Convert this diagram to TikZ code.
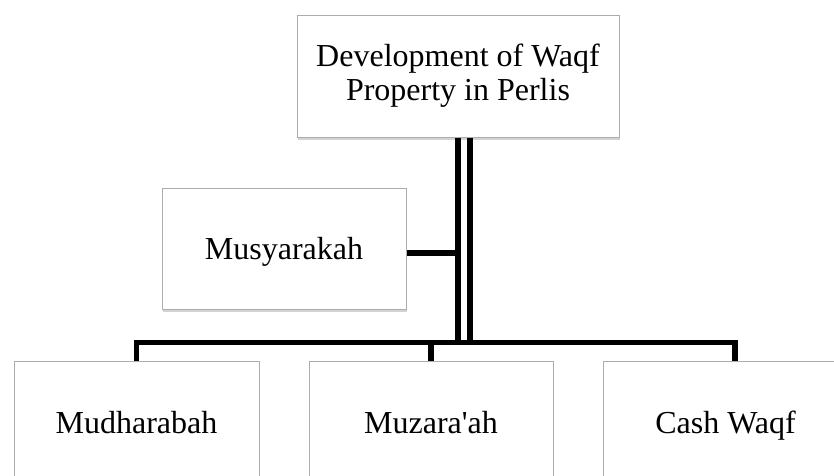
\documentclass[tikz,border=0pt]{standalone}
\usepackage{fontspec}
\setmainfont{Liberation Serif}
\usepackage{tikz}
\usetikzlibrary{shadows,calc,positioning}
\usepackage{xcolor}

\begin{document}
\begin{tikzpicture}[x=1pt, y=-1pt]
    % Define style for the nodes
    \tikzstyle{box node} = [rectangle, draw=gray!65, line width=1pt, fill=white, inner sep=0pt, text depth=0pt,
        drop shadow={shadow xshift=1pt, shadow yshift=-3pt, opacity=0.35, fill=gray},
        font=\fontsize{32}{34}\selectfont]
    \tikzstyle{link} = [draw=black, line width=5.5pt]

    % Frame
    \path[use as bounding box] (0,0) rectangle (834,475);
    \clip (0,0) rectangle (834,475);

    % Nodes
    \node[box node, minimum width=322pt, minimum height=122pt, align=center, text depth=] (dev) at (458,76) {Development of Waqf\\Property in Perlis};
    \node[box node, minimum width=244pt, minimum height=121pt] (musy) at (284,248.5) {Musyarakah};
    \node[box node, minimum width=245pt, minimum height=122pt] (mudh) at (136.5,422) {Mudharabah};
    \node[box node, minimum width=244pt, minimum height=122pt] (muza) at (431,422) {Muzara\textquotesingle ah};
    \node[box node, minimum width=245pt, minimum height=122pt] (cash) at (725.5,422) {Cash Waqf};
    \coordinate (bus) at (0,342.5);

    % Connectors
    \draw[link] (dev.south) -- (dev.south |- bus);
    \draw[link] ([xshift=12pt]dev.south) -- ([xshift=12pt]dev.south |- bus);
    \draw[link] ([yshift=-4.5pt]musy.east) -- ([yshift=-4.5pt]musy.east -| dev.south);
    \draw[link] (mudh.north) -- (mudh.north |- bus) -- ([xshift=9.5pt]cash.north |- bus) -- ([xshift=9.5pt]cash.north);
    \draw[link] (muza.north) -- (muza.north |- bus);
\end{tikzpicture}
\end{document}
